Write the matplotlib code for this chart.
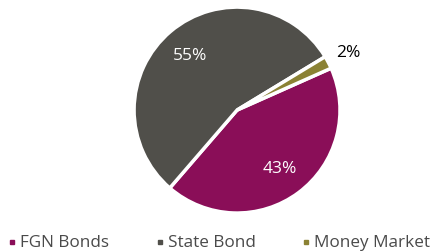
import matplotlib
matplotlib.use("Agg")
import matplotlib.pyplot as plt
from matplotlib.lines import Line2D
import numpy as np

plt.rcParams['font.family'] = ['Open Sans', 'DejaVu Sans']

# data
categories = ['FGN Bonds', 'State Bond', 'Money Market']
shares = [43, 55, 2]
colors = ['#8A0E58', '#504F4A', '#8B8234']

fig = plt.figure(figsize=(4.31, 2.53), dpi=100)
ax = fig.add_axes([0.311, 0.154, 0.478, 0.814])

wedges, _ = ax.pie(shares, colors=colors, startangle=24, counterclock=False,
                   wedgeprops=dict(edgecolor='white', linewidth=2.5))
ax.set_xlim(-1, 1)
ax.set_ylim(-1, 1)
ax.set_aspect('equal')

# percent labels
for w, v in zip(wedges, shares):
    mid = np.deg2rad((w.theta1 + w.theta2) / 2)
    if v < 5:
        r, col = 1.22, 'black'
    else:
        r, col = 0.70, 'white'
    ax.text(r * np.cos(mid), r * np.sin(mid), '%d%%' % v, color=col,
            ha='center', va='center', fontsize=12.5, clip_on=False)

# legend, laid out by hand across the bottom
legend_x = [0.028, 0.371, 0.71]
for x, c, name in zip(legend_x, colors, categories):
    fig.add_artist(Line2D([x], [0.04], marker='s', linestyle='', markersize=3.2,
                          markerfacecolor=c, markeredgecolor=c,
                          transform=fig.transFigure))
    fig.text(x + 0.019, 0.04, name, color='#4A4A4A', fontsize=12.3,
             ha='left', va='center')

fig.savefig('out.png', dpi=100)
